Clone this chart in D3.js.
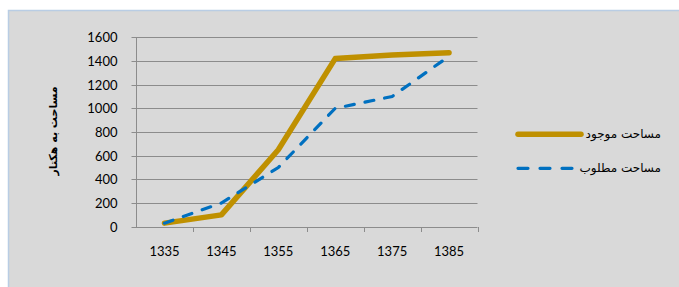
<!DOCTYPE html>
<html><head><meta charset="utf-8">
<script src="https://cdn.jsdelivr.net/npm/d3@7/dist/d3.min.js"></script>
<style>body{margin:0;background:#fff}svg{display:block}</style>
</head><body><svg id="c" width="679" height="287"></svg>
<script>
const categories = ["1335","1345","1355","1365","1375","1385"];
const existing = [30, 100, 650, 1420, 1450, 1470];
const required = [30, 200, 500, 1000, 1100, 1440];
const yTicks = [0,200,400,600,800,1000,1200,1400,1600];
const seriesNames = ["مساحت موجود","مساحت مطلوب"];
const yTitle = "مساحت به هکتار";

const svg = d3.select("#c");
svg.append("rect").attr("x",8.5).attr("y",10.5).attr("width",680).attr("height",290)
  .attr("fill","#d9d9d9").attr("stroke","#b9cde4").attr("stroke-width",1.5);

const x = d3.scaleBand().domain(categories).range([136,477.5]);
const y = d3.scaleLinear().domain([0,1600]).range([226.7,37.3]);

const g = svg.append("g");
g.selectAll("line.grid").data(yTicks.slice(1)).join("line")
  .attr("x1",136).attr("x2",477.5).attr("y1",d=>Math.round(y(d))+0.5).attr("y2",d=>Math.round(y(d))+0.5)
  .attr("stroke","#8c8c8c").attr("stroke-width",1);

const ya = d3.axisLeft(y).tickValues(yTicks).tickFormat(d3.format("d")).tickSize(5).tickPadding(14);
const yg = svg.append("g").attr("transform","translate(136.5,0)").call(ya);
yg.select(".domain").attr("stroke","#8c8c8c").attr("d","M0,37.3V227");
yg.selectAll(".tick line").attr("stroke","#8c8c8c");
yg.selectAll(".tick").attr("transform",d=>`translate(0,${Math.round(y(d))+0.5})`);
yg.selectAll("text").attr("font-family","Lato").attr("font-size",13).attr("fill","#000");

const xa = d3.axisBottom(x).tickSize(0).tickPadding(20);
const xg = svg.append("g").attr("transform","translate(0,227)").call(xa);
xg.select(".domain").attr("stroke","#8c8c8c").attr("d","M136,0.5H477.5");
xg.selectAll("text").attr("font-family","Lato").attr("font-size",13).attr("fill","#000");
xg.selectAll("line.bt").data(categories).join("line").attr("class","bt")
  .attr("x1",d=>Math.round(x(d)+x.bandwidth())+0.5).attr("x2",d=>Math.round(x(d)+x.bandwidth())+0.5)
  .attr("y1",0).attr("y2",5).attr("stroke","#8c8c8c");

const line = d3.line().x((d,i)=>x(categories[i])+x.bandwidth()/2).y(d=>y(d));
svg.append("path").datum(existing).attr("d",line).attr("fill","none")
  .attr("stroke","#bf9000").attr("stroke-width",5.5).attr("stroke-linecap","round").attr("stroke-linejoin","round");
svg.append("path").datum(required).attr("d",line).attr("fill","none")
  .attr("stroke","#0070c0").attr("stroke-width",3.2).attr("stroke-linecap","round")
  .attr("stroke-dasharray","9,11");

svg.append("text").attr("transform","translate(57,131) rotate(-90)").attr("text-anchor","middle")
  .attr("font-family","DejaVu Sans").attr("font-weight","bold").attr("font-size",11).text(yTitle);

const leg = [{y:134.3,c:"#bf9000",w:5.5,dash:null},{y:168.3,c:"#0070c0",w:3.2,dash:"10,12"}];
leg.forEach((l,i)=>{
  const p = svg.append("line").attr("x1",518).attr("x2",581).attr("y1",l.y).attr("y2",l.y)
    .attr("stroke",l.c).attr("stroke-width",l.w).attr("stroke-linecap","round");
  if(l.dash) p.attr("stroke-dasharray",l.dash);
  svg.append("text").attr("x",661).attr("y",l.y+4).attr("text-anchor","end")
    .attr("font-family","DejaVu Sans").attr("font-size",12).attr("fill","#000").text(seriesNames[i]);
});
</script></body></html>
